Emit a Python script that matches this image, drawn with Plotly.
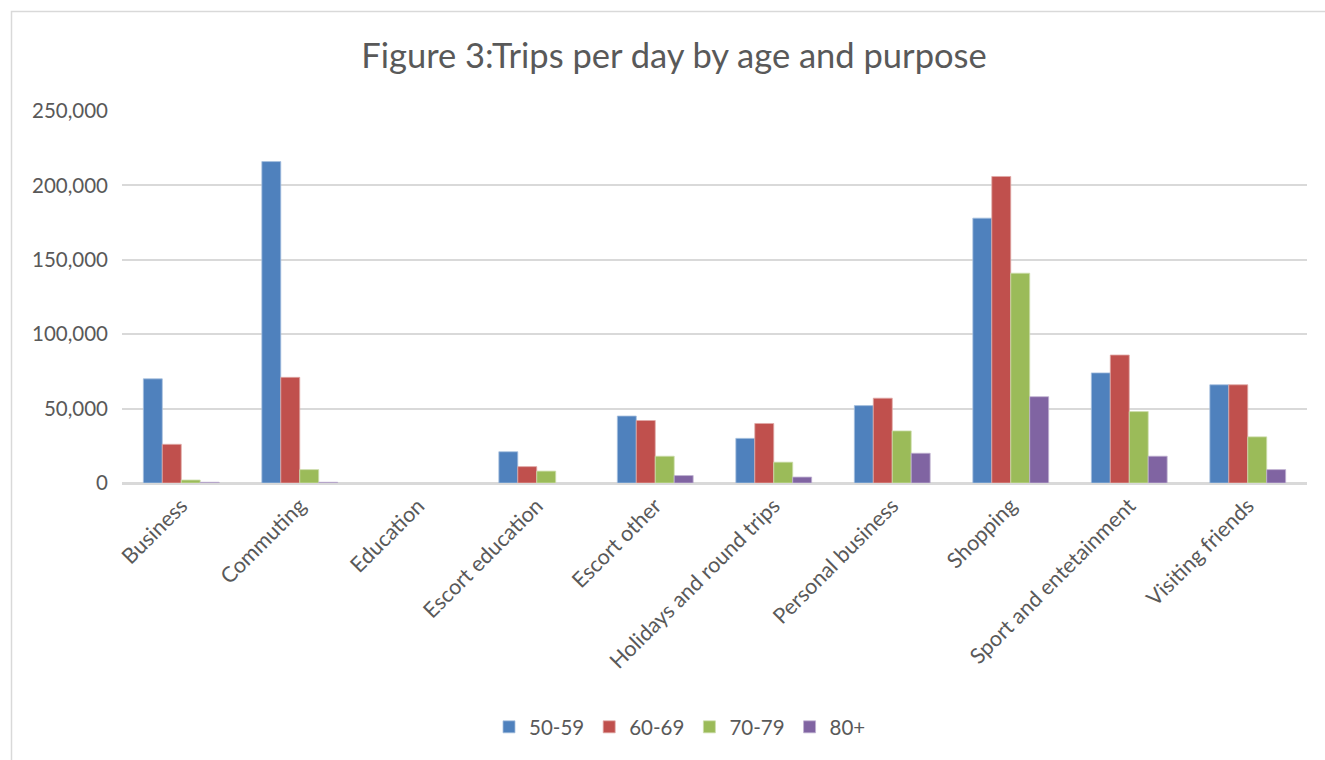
import plotly.graph_objects as go

# Trip purposes (x categories)
purposes = [
    "Business", "Commuting", "Education", "Escort education", "Escort other",
    "Holidays and round trips", "Personal business", "Shopping",
    "Sport and entetainment", "Visiting friends",
]

# Trips per day for each age band
age_50_59 = [70000, 216000, 0, 21000, 45000, 30000, 52000, 178000, 74000, 66000]
age_60_69 = [26000, 71000, 0, 11000, 42000, 40000, 57000, 206000, 86000, 66000]
age_70_79 = [2000, 9000, 0, 8000, 18000, 14000, 35000, 141000, 48000, 31000]
age_80_plus = [500, 500, 0, 0, 5000, 4000, 20000, 58000, 18000, 9000]

series_names = ["50-59", "60-69", "70-79", "80+"]
series_values = [age_50_59, age_60_69, age_70_79, age_80_plus]
series_colors = ["#4F81BD", "#C0504D", "#9BBB59", "#8064A2"]
outline_colors = ["#A7C0DE", "#DFA8A6", "#CDDDAC", "#BFB1D0"]

y_ticks = [0, 50000, 100000, 150000, 200000, 250000]

FONT = "Lato"
TEXT = "#595959"

fig = go.Figure()
for name, vals, col, oc in zip(series_names, series_values, series_colors, outline_colors):
    fig.add_trace(go.Bar(
        name=name, x=purposes, y=vals,
        marker=dict(
            color=col,
            # no outline on empty bars so nothing shows at zero
            line=dict(color=oc, width=[0.8 if v > 0 else 0 for v in vals]),
        ),
    ))

W, H = 1325, 760
L, R, T, B = 122, 18, 111, 277
pw, ph = W - L - R, H - T - B

# light outer frame of the chart area
fig.add_shape(
    type="rect", xref="paper", yref="paper",
    x0=(11.5 - L) / pw, x1=(W + 20 - L) / pw,
    y0=-(H + 20 - (T + ph)) / ph, y1=(T + ph - 11.5) / ph,
    line=dict(color="#D9D9D9", width=1.5), fillcolor="rgba(0,0,0,0)",
    layer="below",
)

fig.update_layout(
    width=W, height=H,
    margin=dict(l=L, r=R, t=T, b=B),
    paper_bgcolor="white", plot_bgcolor="white",
    barmode="group", bargap=0.36, bargroupgap=0,
    font=dict(family=FONT, color=TEXT, size=20),
    title=dict(
        text="Figure 3:Trips per day by age and purpose",
        x=(674 - L) / pw, xref="paper", xanchor="center",
        y=1 - 56 / H, yanchor="middle",
        font=dict(family=FONT, size=34.5, color=TEXT),
    ),
    legend=dict(
        orientation="h", x=(680 - L) / pw, xanchor="center",
        y=(T + ph - 727) / ph, yanchor="middle",
        font=dict(family=FONT, size=20.5, color=TEXT),
        itemwidth=30, tracegroupgap=0,
    ),
    showlegend=True,
)
fig.update_xaxes(
    tickangle=-45, showgrid=False, showline=True,
    linecolor="#D9D9D9", linewidth=1.5, ticks="",
    tickfont=dict(family=FONT, size=21.5, color=TEXT),
)
fig.update_yaxes(
    range=[0, 250000], tickvals=y_ticks,
    ticktext=[f"{v:,}" for v in y_ticks],
    showgrid=True, gridcolor="#D9D9D9", gridwidth=1.5,
    zeroline=True, zerolinecolor="#D9D9D9", zerolinewidth=1.5,
    showline=False, ticks="", ticklen=0, ticklabelstandoff=13,
    tickfont=dict(family=FONT, size=20.5, color=TEXT),
)

fig.write_html("out.html")
